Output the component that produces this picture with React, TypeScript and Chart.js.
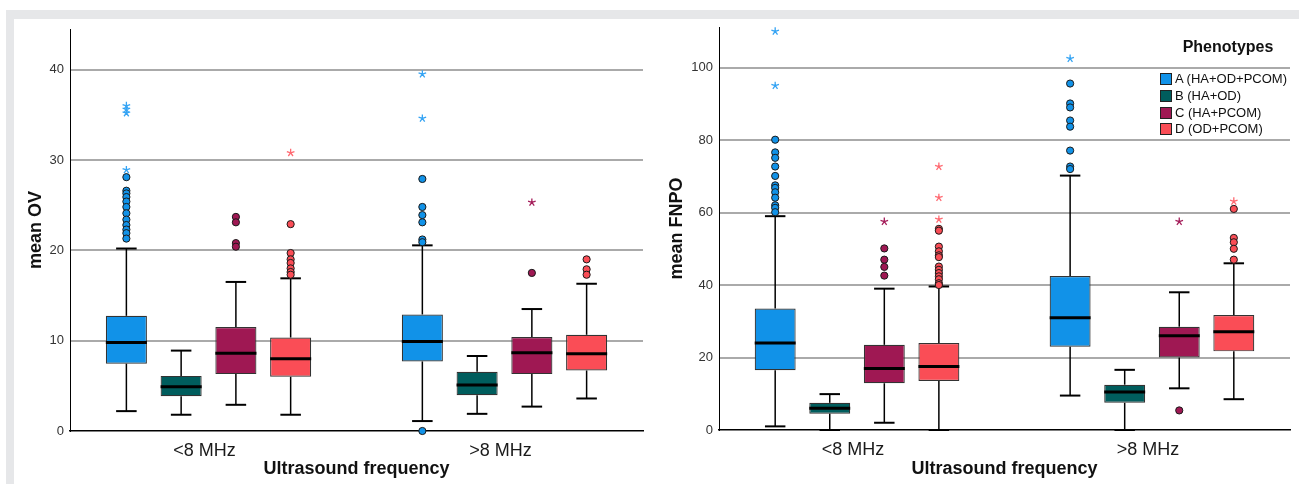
import React, { useEffect, useRef } from 'react';
import { Chart, registerables } from 'chart.js';

Chart.register(...registerables);

const FONT = "'Liberation Sans', Arial, Helvetica, sans-serif";
Chart.defaults.font.family = FONT;

const categories = ['<8 MHz', '>8 MHz'];
const phenotypes = ['A (HA+OD+PCOM)', 'B (HA+OD)', 'C (HA+PCOM)', 'D (OD+PCOM)'];
const boxColors = ['#1192e8', '#005d5d', '#9f1853', '#fa4d56'];
const starColors = ['#35a4f4', '#005d5d', '#a51f5b', '#ff6a72'];

// mean OV — rows: phenotypes A–D, columns: <8 MHz, >8 MHz
const ovLow = [[2.2, 1.1], [1.8, 1.9], [2.9, 2.7], [1.8, 3.6]];
const ovQ1 = [[7.45, 7.7], [3.85, 3.95], [6.3, 6.3], [6.0, 6.7]];
const ovMedian = [[9.8, 9.9], [4.9, 5.1], [8.6, 8.65], [8.0, 8.55]];
const ovQ3 = [[12.75, 12.9], [6.1, 6.55], [11.5, 10.4], [10.35, 10.65]];
const ovHigh = [[20.2, 20.55], [8.9, 8.3], [16.5, 13.5], [16.9, 16.3]];
const ovOutliers = [
  [[28.1, 26.6, 26.3, 25.9, 25.4, 24.8, 24.1, 23.4, 22.8, 22.3, 21.9, 21.3], [27.9, 24.8, 23.9, 23.1, 21.2, 20.9, 0]],
  [[], []],
  [[23.7, 23.1, 20.8, 20.4], [17.5]],
  [[22.9, 19.7, 19.0, 18.6, 18.0, 17.6, 17.3], [19.0, 17.9, 17.3]],
];
const ovExtremes = [
  [[36.0, 35.6, 35.2, 28.9], [39.5, 34.6]],
  [[], []],
  [[], [25.3]],
  [[30.8], []],
];

// mean FNPO — rows: phenotypes A–D, columns: <8 MHz, >8 MHz
const fnpoLow = [[1.0, 9.5], [0, 0], [2.0, 11.5], [0, 8.5]];
const fnpoQ1 = [[16.5, 23.0], [4.5, 7.5], [12.9, 20.0], [13.5, 21.7]];
const fnpoMedian = [[24.0, 31.0], [6.0, 10.5], [17.0, 26.0], [17.5, 27.1]];
const fnpoQ3 = [[33.5, 42.5], [7.5, 12.5], [23.5, 28.5], [24.0, 31.7]];
const fnpoHigh = [[59.0, 70.2], [9.9, 16.6], [39.0, 38.0], [39.6, 46.0]];
const fnpoOutliers = [
  [[80.1, 76.6, 75.1, 72.7, 70.1, 67.5, 66.8, 65.6, 64.1, 62.0, 61.3, 60.1], [95.6, 90.1, 89.0, 85.4, 83.7, 77.1, 72.7, 72.0]],
  [[], []],
  [[50.1, 47.0, 45.0, 42.6], [5.4]],
  [[55.5, 55.0, 50.6, 49.3, 48.2, 47.7, 45.1, 44.2, 43.3, 42.4, 41.6, 40.5, 40.0], [61.0, 53.0, 51.8, 50.0, 47.0]],
];
const fnpoExtremes = [
  [[110.0, 95.0], [102.5]],
  [[], []],
  [[57.5], [57.5]],
  [[72.7, 64.1, 58.1], [63.1]],
];

type Panel = {
  yTitle: string; yMax: number; yStep: number;
  low: number[][]; q1: number[][]; med: number[][]; q3: number[][]; high: number[][];
  outliers: number[][][]; extremes: number[][][];
  left: number; width: number; padTop: number; padRight: number;
  yAxisWidth: number; xAxisHeight: number; yTitlePad: number;
};

const panels: Panel[] = [
  {
    yTitle: 'mean OV', yMax: 44.5, yStep: 10,
    low: ovLow, q1: ovQ1, med: ovMedian, q3: ovQ3, high: ovHigh,
    outliers: ovOutliers, extremes: ovExtremes,
    left: 0, width: 650, padTop: 29, padRight: 7, yAxisWidth: 70, xAxisHeight: 53, yTitlePad: 25,
  },
  {
    yTitle: 'mean FNPO', yMax: 111.2, yStep: 20,
    low: fnpoLow, q1: fnpoQ1, med: fnpoMedian, q3: fnpoQ3, high: fnpoHigh,
    outliers: fnpoOutliers, extremes: fnpoExtremes,
    left: 650, width: 649, padTop: 27, padRight: 9, yAxisWidth: 69, xAxisHeight: 54, yTitlePad: 16,
  },
];

function line(ctx: CanvasRenderingContext2D, x1: number, y1: number, x2: number, y2: number) {
  ctx.beginPath();
  ctx.moveTo(x1, y1);
  ctx.lineTo(x2, y2);
  ctx.stroke();
}

function star(ctx: CanvasRenderingContext2D, x: number, y: number, r: number) {
  ctx.beginPath();
  for (let i = 0; i < 5; i++) {
    const a = -Math.PI / 2 + (i * 2 * Math.PI) / 5;
    ctx.moveTo(x, y);
    ctx.lineTo(x + r * Math.cos(a), y + r * Math.sin(a));
  }
  ctx.stroke();
}

function makeBoxPlugin(p: Panel) {
  return {
    id: 'boxWhiskers',
    afterDatasetsDraw(chart: any) {
      const ctx: CanvasRenderingContext2D = chart.ctx;
      const ys = chart.scales.y;
      ctx.save();
      chart.data.datasets.forEach((_: any, k: number) => {
        const meta = chart.getDatasetMeta(k);
        meta.data.forEach((bar: any, g: number) => {
          const { x, width } = bar.getProps(['x', 'width'], true);
          const half = width / 2;
          const cap = width * 0.25;
          const yQ1 = ys.getPixelForValue(p.q1[k][g]);
          const yQ3 = ys.getPixelForValue(p.q3[k][g]);
          const yLo = ys.getPixelForValue(p.low[k][g]);
          const yHi = ys.getPixelForValue(p.high[k][g]);
          const yMed = ys.getPixelForValue(p.med[k][g]);
          ctx.strokeStyle = '#000';
          ctx.lineWidth = 1.5;
          line(ctx, x, yQ3, x, yHi);
          line(ctx, x, yQ1, x, yLo);
          ctx.lineWidth = 2;
          line(ctx, x - cap, yHi, x + cap, yHi);
          line(ctx, x - cap, yLo, x + cap, yLo);
          ctx.lineWidth = 3;
          line(ctx, x - half, yMed, x + half, yMed);
          // outliers (circles)
          ctx.lineWidth = 1;
          ctx.fillStyle = boxColors[k];
          ctx.strokeStyle = '#1a1a1a';
          p.outliers[k][g].forEach((v) => {
            const yy = ys.getPixelForValue(v);
            ctx.beginPath();
            ctx.arc(x, yy, 3.6, 0, Math.PI * 2);
            ctx.fill();
            ctx.stroke();
          });
          // extremes (asterisks)
          ctx.strokeStyle = starColors[k];
          ctx.lineWidth = 1.3;
          p.extremes[k][g].forEach((v) => {
            star(ctx, x, ys.getPixelForValue(v), 4);
          });
        });
      });
      ctx.restore();
    },
  };
}

function buildConfig(p: Panel): any {
  const datasets = phenotypes.map((name, k) => ({
    label: name,
    data: categories.map((_, g) => ({ x: g, y: [p.q1[k][g], p.q3[k][g]] })),
    backgroundColor: boxColors[k],
    borderColor: '#333333',
    borderWidth: 1.2,
    borderSkipped: false,
    categoryPercentage: 0.74,
    barPercentage: 0.75,
  }));
  return {
    type: 'bar',
    data: { datasets },
    options: {
      responsive: false,
      animation: false,
      devicePixelRatio: 1,
      layout: { padding: { left: 0, right: p.padRight, top: p.padTop, bottom: 0 } },
      plugins: { legend: { display: false }, tooltip: { enabled: false } },
      scales: {
        x: {
          type: 'linear', min: -0.468, max: 1.468, offset: false, bounds: 'data',
          grid: { display: false, drawTicks: false, offset: false },
          border: { display: true, color: '#000', width: 1.5 },
          afterBuildTicks: (s: any) => { s.ticks = categories.map((_, i) => ({ value: i })); },
          afterFit: (s: any) => { s.height = p.xAxisHeight; },
          ticks: {
            callback: (_v: any, i: number) => categories[i],
            font: { size: 18 }, color: '#1a1a1a', padding: 9,
            maxRotation: 0, minRotation: 0, autoSkip: false, labelOffset: -4,
          },
          title: {
            display: true, text: 'Ultrasound frequency',
            font: { size: 18, weight: 'bold' }, color: '#111',
            padding: { top: 0, bottom: 4 },
          },
        },
        y: {
          type: 'linear', min: 0, max: p.yMax, bounds: 'data',
          grid: {
            drawTicks: false, lineWidth: 2,
            color: (c: any) => (c.tick && c.tick.value === 0 ? 'rgba(0,0,0,0)' : '#aaaaaa'),
          },
          border: { color: '#000', width: 1 },
          afterFit: (s: any) => { s.width = p.yAxisWidth; },
          ticks: { stepSize: p.yStep, includeBounds: false, font: { size: 13 }, color: '#333', padding: 6 },
          title: {
            display: true, text: p.yTitle,
            font: { size: 18, weight: 'bold' }, color: '#111',
            padding: { top: p.yTitlePad, bottom: 0 },
          },
        },
      },
    },
    plugins: [makeBoxPlugin(p)],
  };
}

function BoxPanel({ p }: { p: Panel }) {
  const ref = useRef<HTMLCanvasElement | null>(null);
  useEffect(() => {
    if (!ref.current) return;
    const chart = new Chart(ref.current, buildConfig(p));
    return () => chart.destroy();
  }, [p]);
  return (
    <div style={{ position: 'absolute', left: p.left, top: 0, width: p.width, height: 484 }}>
      <canvas ref={ref} width={p.width} height={484} style={{ display: 'block', width: p.width, height: 484 }} />
    </div>
  );
}

const legendRowCenters = [79, 96, 112.5, 129];

export default function App() {
  return (
    <div style={{ position: 'absolute', left: 0, top: 0, width: 1299, height: 484, background: '#fff', overflow: 'hidden', fontFamily: FONT }}>
      <div style={{ position: 'absolute', left: 6, top: 10, width: 1293, height: 9, background: '#e6e7e9' }} />
      <div style={{ position: 'absolute', left: 6, top: 10, width: 8, height: 474, background: '#e6e7e9' }} />
      {panels.map((p, i) => <BoxPanel key={i} p={p} />)}
      <div style={{ position: 'absolute', left: 1160, top: 38, width: 136, height: 18, lineHeight: '18px', textAlign: 'center', fontWeight: 'bold', fontSize: 16, color: '#111' }}>
        Phenotypes
      </div>
      {phenotypes.map((name, k) => (
        <div key={name} style={{ position: 'absolute', left: 1160, top: legendRowCenters[k] - 8, height: 16, display: 'flex', alignItems: 'center', whiteSpace: 'nowrap' }}>
          <span style={{ display: 'inline-block', width: 12, height: 12, boxSizing: 'border-box', border: '1px solid #222', background: boxColors[k], marginRight: 3 }} />
          <span style={{ fontSize: 13, color: '#111', lineHeight: '16px' }}>{name}</span>
        </div>
      ))}
    </div>
  );
}
